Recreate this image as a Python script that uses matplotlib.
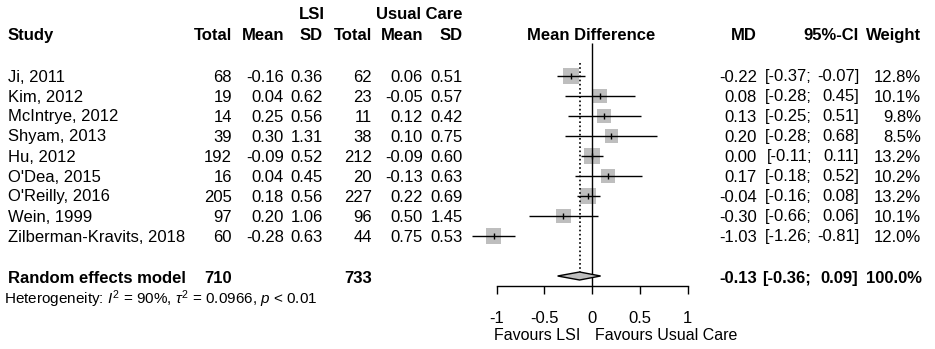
import numpy as np
import matplotlib
matplotlib.use("Agg")
import matplotlib.pyplot as plt

plt.rcParams['font.family'] = ['Liberation Sans', 'DejaVu Sans']
plt.rcParams['axes.unicode_minus'] = False
plt.rcParams['mathtext.fontset'] = 'custom'
plt.rcParams['mathtext.rm'] = 'Liberation Sans'
plt.rcParams['mathtext.it'] = 'Liberation Sans:italic'

# data
studies = ["Ji, 2011", "Kim, 2012", "McIntrye, 2012", "Shyam, 2013", "Hu, 2012",
           "O'Dea, 2015", "O'Reilly, 2016", "Wein, 1999", "Zilberman-Kravits, 2018"]
lsi_n = [68, 19, 14, 39, 192, 16, 205, 97, 60]
lsi_mean = [-0.16, 0.04, 0.25, 0.30, -0.09, 0.04, 0.18, 0.20, -0.28]
lsi_sd = [0.36, 0.62, 0.56, 1.31, 0.52, 0.45, 0.56, 1.06, 0.63]
uc_n = [62, 23, 11, 38, 212, 20, 227, 96, 44]
uc_mean = [0.06, -0.05, 0.12, 0.10, -0.09, -0.13, 0.22, 0.50, 0.75]
uc_sd = [0.51, 0.57, 0.42, 0.75, 0.60, 0.63, 0.69, 1.45, 0.53]
md = [-0.22, 0.08, 0.13, 0.20, 0.00, 0.17, -0.04, -0.30, -1.03]
ci_lo = [-0.37, -0.28, -0.25, -0.28, -0.11, -0.18, -0.16, -0.66, -1.26]
ci_hi = [-0.07, 0.45, 0.51, 0.68, 0.11, 0.52, 0.08, 0.06, -0.81]
weight = [12.8, 10.1, 9.8, 8.5, 13.2, 10.2, 13.2, 10.1, 12.0]
pooled_md, pooled_lo, pooled_hi = -0.13, -0.36, 0.09
pooled_weight = 100.0
total_lsi, total_uc = 710, 733
het_text = r"Heterogeneity: $I^2$ = 90%, $\tau^2$ = 0.0966, $p$ < 0.01"
ticks = [-1, -0.5, 0, 0.5, 1]
tick_labels = ["-1", "-0.5", "0", "0.5", "1"]

W, H = 935, 349
fig = plt.figure(figsize=(W / 100, H / 100), dpi=100)

# text layer in pixel coords
ax0 = fig.add_axes([0, 0, 1, 1])
ax0.set_xlim(0, W)
ax0.set_ylim(H, 0)
ax0.axis('off')

fs = 12
row_y = [76 + 20 * i for i in range(len(studies))]
base = 5.5  # baseline offset from row centre

def t(x, y, s, ha='right', bold=False, size=fs):
    ax0.text(x, y, s, ha=ha, va='baseline', fontsize=size,
             fontweight='bold' if bold else 'normal')

# headers
t(325, 19, "LSI", bold=True)
t(463, 19, "Usual Care", bold=True)
t(8, 40, "Study", ha='left', bold=True)
for x, s in zip([232, 284, 323, 372, 423, 463],
                ["Total", "Mean", "SD", "Total", "Mean", "SD"]):
    t(x, 40, s, bold=True)
t(591, 40, "Mean Difference", ha='center', bold=True)
t(757, 40, "MD", bold=True)
t(859, 40, "95%-CI", bold=True)
t(921, 40, "Weight", bold=True)

for i, y in enumerate(row_y):
    yb = y + base
    t(8, yb, studies[i], ha='left')
    t(232, yb, str(lsi_n[i]))
    t(284, yb, "%.2f" % lsi_mean[i])
    t(323, yb, "%.2f" % lsi_sd[i])
    t(372, yb, str(uc_n[i]))
    t(423, yb, "%.2f" % uc_mean[i])
    t(463, yb, "%.2f" % uc_sd[i])
    t(757, yb, "%.2f" % md[i])
    t(812, yb, "[%.2f;" % ci_lo[i])
    t(859, yb, "%.2f]" % ci_hi[i])
    t(921, yb, "%.1f%%" % weight[i])

yb = 283
t(8, yb, "Random effects model", ha='left', bold=True)
t(232, yb, str(total_lsi), bold=True)
t(372, yb, str(total_uc), bold=True)
t(757, yb, "%.2f" % pooled_md, bold=True)
t(811, yb, "[%.2f;" % pooled_lo, bold=True)
t(858, yb, "%.2f]" % pooled_hi, bold=True)
t(922, yb, "%.1f%%" % pooled_weight, bold=True)
t(4, 304, het_text, ha='left', size=11)

# forest panel
x0, x1 = 470, 705
zero_px, unit_px = 592, 95.5
ax = fig.add_axes([x0 / W, 0, (x1 - x0) / W, 1])
ax.patch.set_alpha(0)
ax.set_xlim((x0 - zero_px) / unit_px, (x1 - zero_px) / unit_px)
ax.set_ylim(H, 0)
for sp in ['left', 'right', 'top']:
    ax.spines[sp].set_visible(False)
ax.spines['bottom'].set_position(('data', 286))
ax.spines['bottom'].set_bounds(-1, 1)
ax.spines['bottom'].set_linewidth(1.0)
ax.set_yticks([])
ax.set_xticks(ticks)
ax.set_xticklabels(tick_labels)
ax.tick_params(axis='x', direction='out', length=6, width=1.0,
               labelsize=fs, pad=12)

side_px = 4.5 * np.sqrt(np.array(weight))
ax.scatter(md, row_y, marker='s', s=(side_px * 0.72) ** 2,
           color='#BEBEBE', linewidths=0, zorder=2)
ax.hlines(row_y, ci_lo, ci_hi, color='black', lw=1.0, zorder=3)
ax.scatter(md, row_y, marker='|', s=20, color='black', linewidths=1.0, zorder=4)

ax.vlines(0, 43, 286, color='black', lw=1.0, zorder=3)
ax.vlines(pooled_md, 63, 272, color='black', lw=1.2,
          linestyles=(0, (1, 1.5)), zorder=3)
ax.fill([pooled_lo, pooled_md, pooled_hi, pooled_md], [276, 272, 276, 280],
        facecolor='#BEBEBE', edgecolor='black', lw=1.0, zorder=4)

ax.text(-0.12, 340.5, "Favours LSI", ha='right', va='baseline', fontsize=11.5)
ax.text(0.03, 340.5, "Favours Usual Care", ha='left', va='baseline', fontsize=11.5)

fig.savefig("out.png", dpi=100)
